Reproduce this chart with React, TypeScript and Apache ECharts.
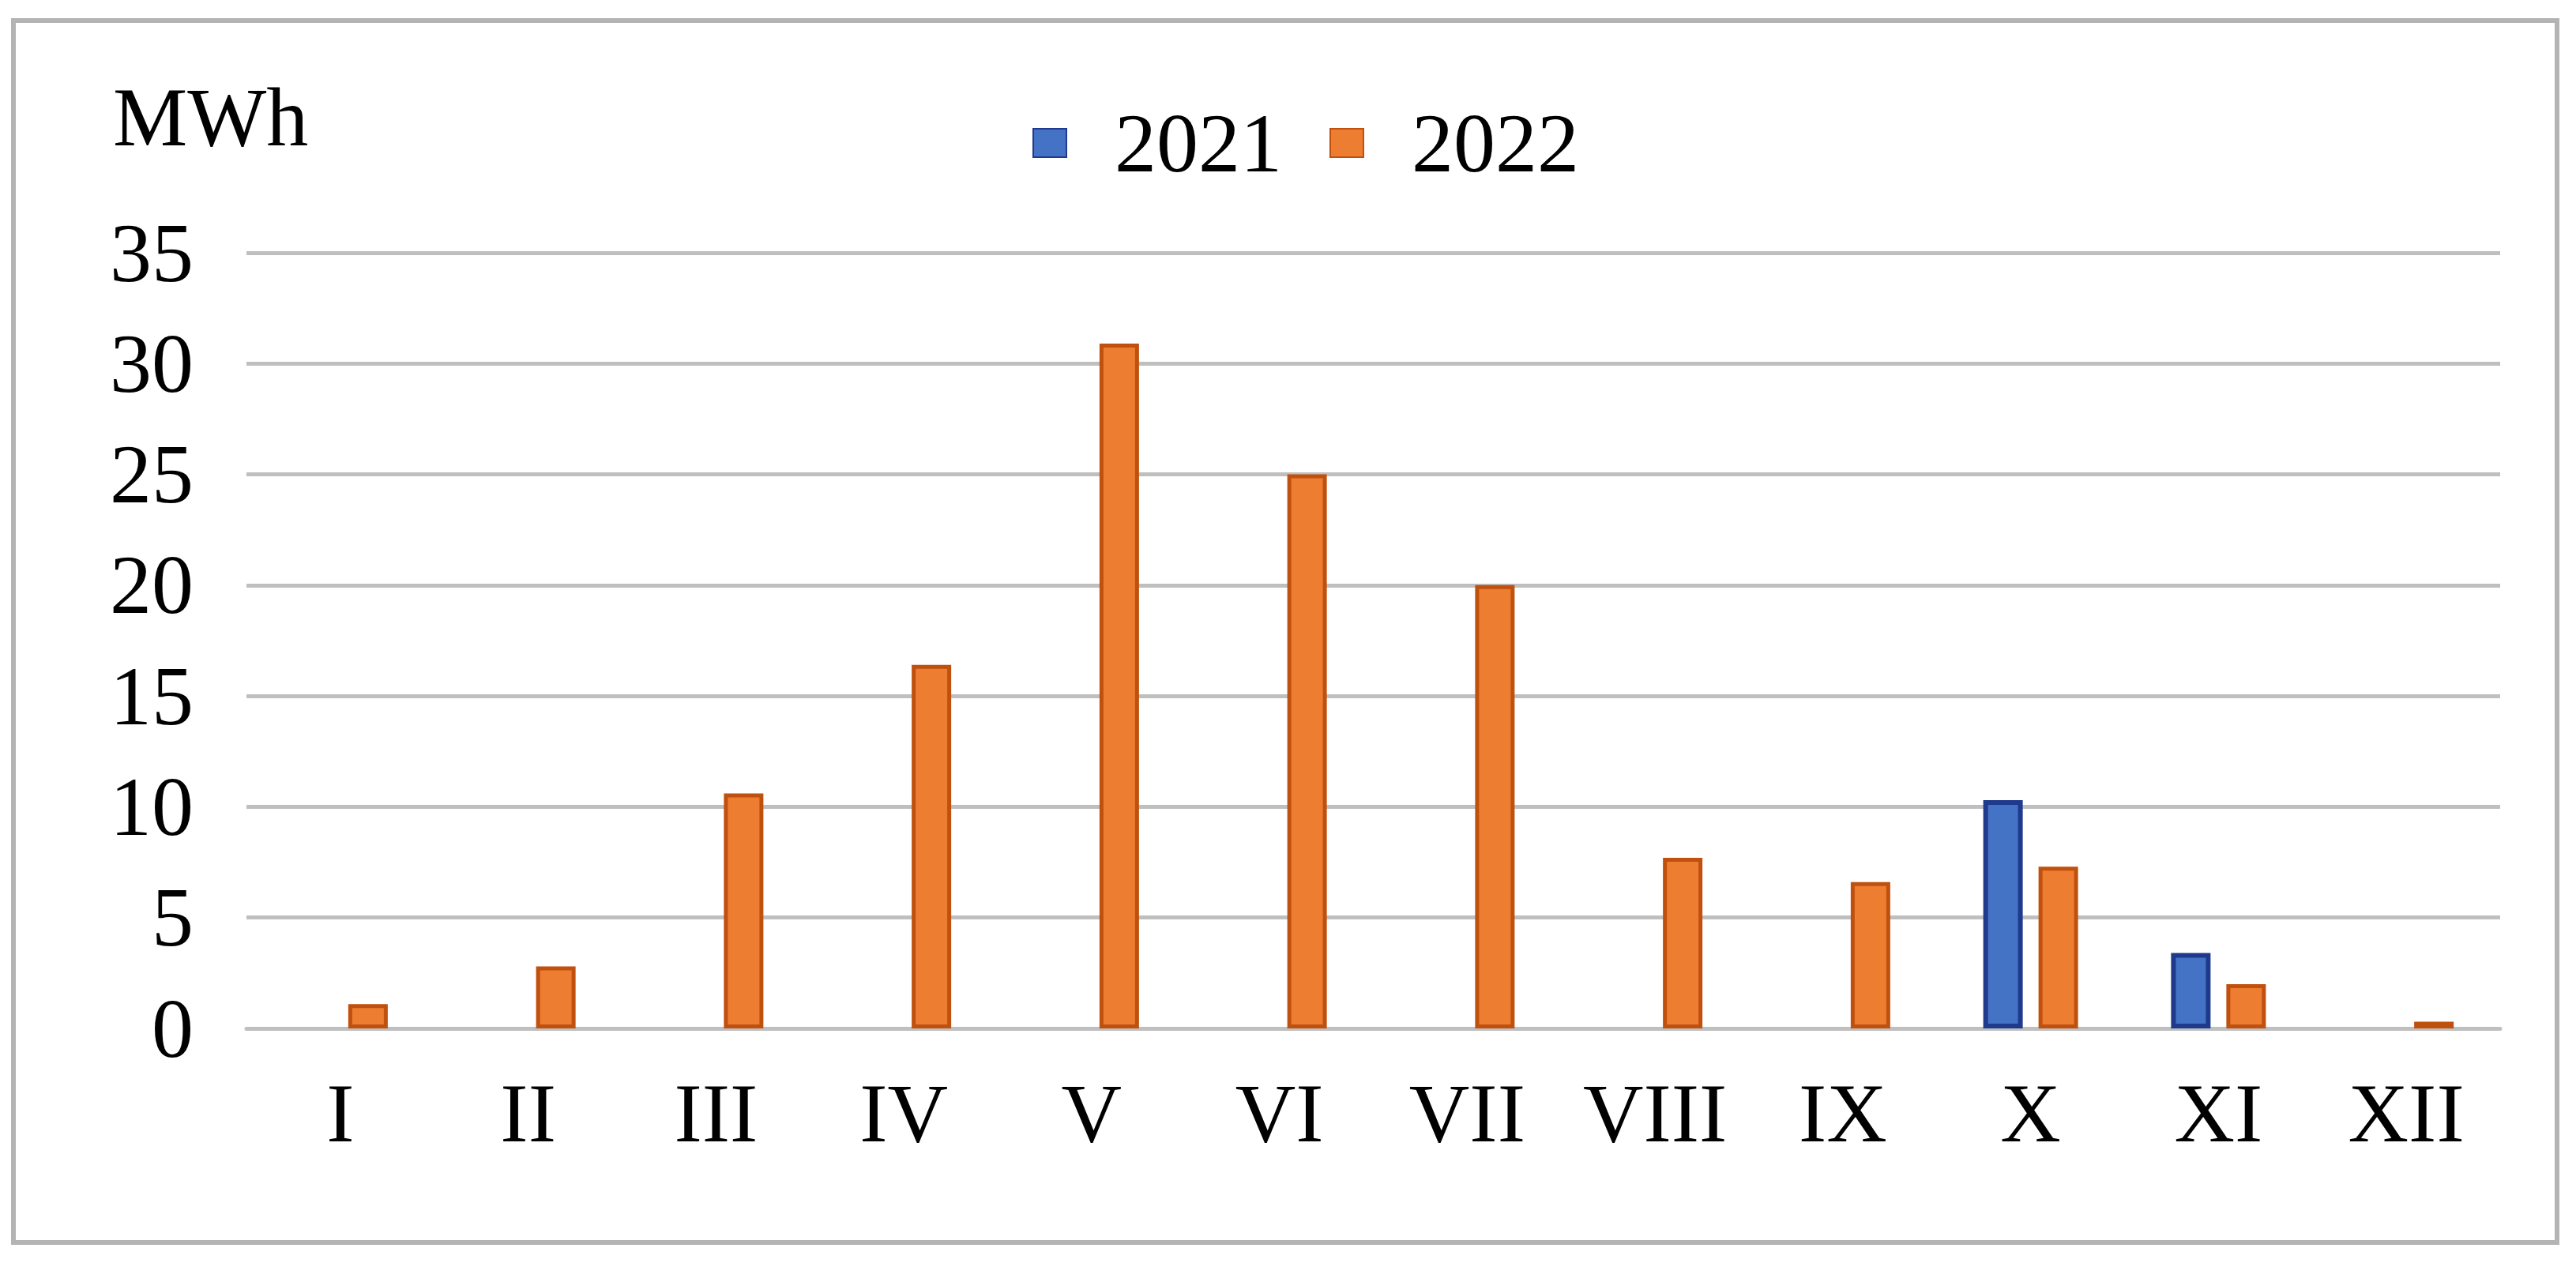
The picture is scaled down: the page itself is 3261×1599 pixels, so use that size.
import React, { useEffect, useRef } from "react";
import * as echarts from "echarts";

const categories = ["I", "II", "III", "IV", "V", "VI", "VII", "VIII", "IX", "X", "XI", "XII"];
const seriesNames = ["2021", "2022"];
const values2021 = [null, null, null, null, null, null, null, null, null, 10.3, 3.4, null];
const values2022 = [1.1, 2.8, 10.6, 16.4, 30.9, 25.0, 20.0, 7.7, 6.6, 7.3, 2.0, 0.3];
const yUnit = "MWh";

const FONT = "'Liberation Serif', 'Times New Roman', serif";

export default function App() {
  const ref = useRef<HTMLDivElement>(null);

  useEffect(() => {
    document.body.style.margin = "0";
    const chart = echarts.init(ref.current!, null, { renderer: "svg" });
    chart.setOption({
      animation: false,
      backgroundColor: "#ffffff",
      textStyle: { fontFamily: FONT },
      grid: { left: 312, right: 96, top: 320, bottom: 297, containLabel: false },
      legend: {
        left: 1302,
        top: 123,
        itemWidth: 42,
        itemHeight: 36,
        itemGap: 60,
        icon: "rect",
        data: seriesNames,
        textStyle: {
          fontFamily: FONT,
          fontSize: 106,
          lineHeight: 106,
          color: "#000000",
          padding: [0, 0, 0, 56],
        },
      },
      xAxis: {
        type: "category",
        data: categories,
        axisTick: { show: false },
        axisLine: { show: true, lineStyle: { color: "#BFBFBF", width: 5 } },
        axisLabel: {
          fontFamily: FONT,
          fontSize: 106,
          lineHeight: 106,
          color: "#000000",
          margin: 54,
        },
      },
      yAxis: {
        type: "value",
        min: 0,
        max: 35,
        interval: 5,
        axisLine: { show: false },
        axisTick: { show: false },
        splitLine: { show: true, lineStyle: { color: "#BFBFBF", width: 5 } },
        axisLabel: {
          fontFamily: FONT,
          fontSize: 106,
          color: "#000000",
          margin: 67,
        },
      },
      series: [
        {
          name: seriesNames[0],
          type: "bar",
          data: values2021,
          barWidth: 50,
          barGap: "40%",
          itemStyle: { color: "#4472C4", borderColor: "#1F3A8C", borderWidth: 6 },
        },
        {
          name: seriesNames[1],
          type: "bar",
          data: values2022,
          barWidth: 50,
          barGap: "40%",
          itemStyle: { color: "#ED7D31", borderColor: "#C0500E", borderWidth: 5 },
        },
      ],
      graphic: [
        {
          type: "rect",
          shape: { x: 17, y: 26, width: 3220, height: 1547 },
          style: { fill: "none", stroke: "#B4B4B4", lineWidth: 6 },
          silent: true,
        },
        {
          type: "text",
          x: 143,
          y: 148,
          style: {
            text: yUnit,
            fontFamily: FONT,
            fontSize: 106,
            fill: "#000000",
            verticalAlign: "middle",
            align: "left",
          },
        },
      ],
    });
    return () => chart.dispose();
  }, []);

  return (
    <div
      ref={ref}
      style={{ position: "absolute", left: 0, top: 0, width: 3261, height: 1599 }}
    />
  );
}
